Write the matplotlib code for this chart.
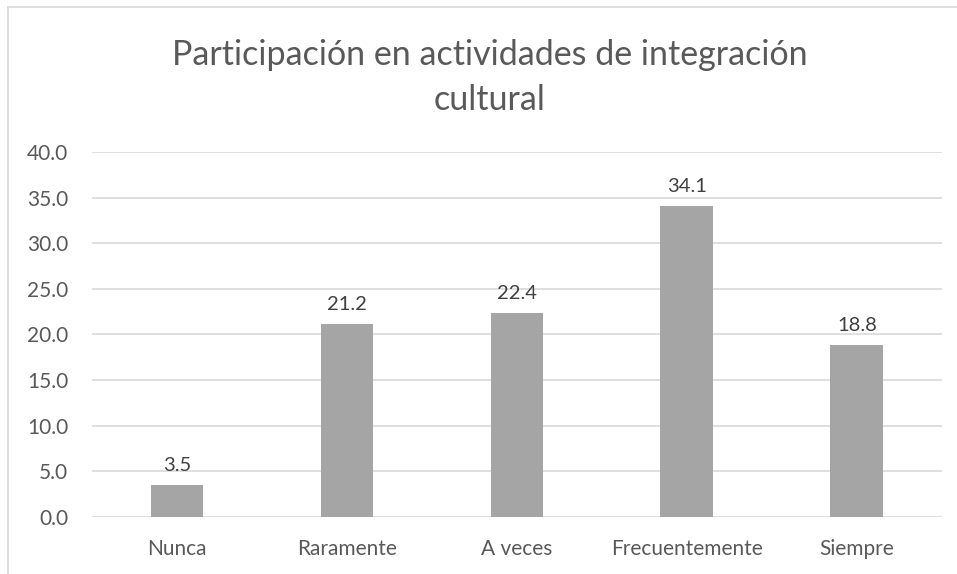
import matplotlib.pyplot as plt

categories = ["Nunca", "Raramente", "A veces", "Frecuentemente", "Siempre"]
values = [3.5, 21.2, 22.4, 34.1, 18.8]
yticks = [0, 5, 10, 15, 20, 25, 30, 35, 40]

plt.rcParams["font.family"] = ["Lato", "DejaVu Sans"]

text_color = "#595959"
grid_color = "#D9D9D9"
bar_color = "#A5A5A5"

fig = plt.figure(figsize=(9.57, 5.74), dpi=100)
ax = fig.add_axes([0.0961, 0.0993, 0.888, 0.6359])

x = range(len(categories))
bars = ax.bar(x, values, width=0.31, color=bar_color, zorder=3)

for b, v in zip(bars, values):
    ax.text(b.get_x() + b.get_width() / 2, v + 1.2, f"{v:.1f}",
            ha="center", va="bottom", fontsize=14.5, color="#404040")

ax.set_xlim(-0.5, len(categories) - 0.5)
ax.set_ylim(0, 40)
ax.set_yticks(yticks)
ax.set_yticklabels([f"{t:.1f}" for t in yticks])
ax.set_xticks(list(x))
ax.set_xticklabels(categories)
ax.tick_params(axis="both", length=0, labelsize=15, colors=text_color)
ax.tick_params(axis="y", pad=17)
ax.tick_params(axis="x", pad=16)
ax.grid(axis="y", color=grid_color, linewidth=1.2, zorder=0)
for s in ax.spines.values():
    s.set_visible(False)

fig.text(0.512, 0.865, "Participación en actividades de integración\ncultural",
         ha="center", va="center", fontsize=24.5, color=text_color,
         linespacing=1.5)

# light chart border (top and left only visible in the reference)
fig.add_artist(plt.Line2D([8 / 957, 1], [1 - 7 / 574, 1 - 7 / 574],
                          transform=fig.transFigure, color=grid_color, linewidth=1.2))
fig.add_artist(plt.Line2D([8 / 957, 8 / 957], [0, 1 - 7 / 574],
                          transform=fig.transFigure, color=grid_color, linewidth=1.2))

fig.savefig("out.png", dpi=100)
